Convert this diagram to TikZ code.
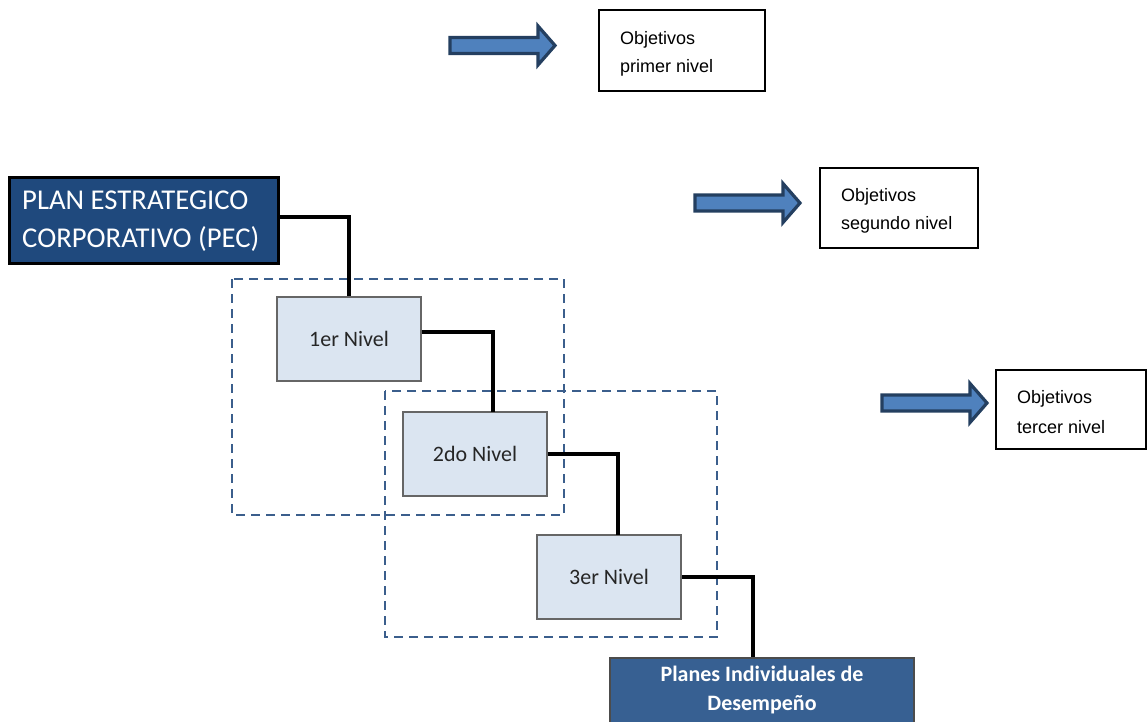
\documentclass[tikz,border=0pt]{standalone}
\usepackage{fontspec}
\setmainfont{Liberation Sans}
\newfontfamily\calfont{Carlito}
\begin{document}
\begin{tikzpicture}[x=1pt,y=-1pt,
  objtxt/.style={anchor=west, font=\fontsize{18}{20}\selectfont, inner sep=0pt},
  niv/.style={draw=black!60, line width=1.5pt, fill=nivfill, minimum width=144pt, minimum height=84pt, font=\calfont\fontsize{22}{24}\selectfont, text=black!85, inner sep=0pt},
  dashbox/.style={draw=dashcol, line width=1.8pt, dash pattern=on 9pt off 6pt},
  link/.style={draw=black, line width=3.2pt},
  bigarrow/.pic={\draw[fill=arrfill, draw=arrdraw, line width=3.2pt, line join=miter] (0,-8) -- (88,-8) -- (88,-19.5) -- (105,0) -- (88,19.5) -- (88,8) -- (0,8) -- cycle;}
]
\definecolor{nivfill}{HTML}{DBE5F1}
\definecolor{dashcol}{HTML}{3B5E8C}
\definecolor{arrfill}{HTML}{4F81BD}
\definecolor{arrdraw}{HTML}{243F60}
\definecolor{pecfill}{HTML}{1F497D}
\definecolor{planfill}{HTML}{376092}
\useasboundingbox (0,0) rectangle (1148,721);
\clip (0,0) rectangle (1148,721);
\fill[white] (0,0) rectangle (1148,721);

% dashed boxes
\draw[dashbox] (232,279) rectangle (564,515);
\draw[dashbox] (385,391) rectangle (717,637);

% top-right arrows and boxes
\pic at (450,45.5) {bigarrow};
\pic at (695,203) {bigarrow};
\pic at (882,403) {bigarrow};

\draw[draw=black, line width=1.3pt] (599,10) rectangle (765,91);
\node[objtxt] (o1a) at (620,40) {Objetivos};
\node[objtxt] (o1b) at (620,68) {primer nivel};
\draw[draw=black, line width=1.3pt] (820,168) rectangle (978,248);
\node[objtxt] (o2a) at (841,197) {Objetivos};
\node[objtxt] (o2b) at (841,225) {segundo nivel};
\draw[draw=black, line width=1.3pt] (996,370) rectangle (1146,449);
\node[objtxt] (o3a) at (1017,399) {Objetivos};
\node[objtxt] (o3b) at (1017,427) {tercer nivel};

% main nodes
\node[draw=black, line width=3pt, fill=pecfill, minimum width=269pt, minimum height=86pt, inner sep=0pt] (pec) at (143.5,220) {};
\node[anchor=west, text=white, font=\calfont\fontsize{28.7}{38}\selectfont, align=left, inner sep=0pt] (pect) at (22,221) {PLAN ESTRATEGICO\\CORPORATIVO (PEC)};

\node[niv] (n1) at (349,339) {1er Nivel};
\node[niv] (n2) at (475,454) {2do Nivel};
\node[niv] (n3) at (609,577) {3er Nivel};

\node[draw=black!70, line width=1.5pt, fill=planfill, minimum width=304pt, minimum height=90pt, inner sep=0pt, anchor=north] (pl) at (762,657) {};
\node[text=white, font=\calfont\bfseries\fontsize{22}{29}\selectfont, align=center, inner sep=0pt] (plt) at (762,690) {Planes Individuales de\\Desempeño};

\coordinate (in2) at (493,412);
\coordinate (in3) at (618,535);
\coordinate (plin) at (753,657);

% connectors
\draw[link] ([yshift=3pt]pec.east) -| (n1.north);
\draw[link] ([yshift=7pt]n1.east) -| (in2);
\draw[link] (n2.east) -| (in3);
\draw[link] (n3.east) -| (plin);
\end{tikzpicture}
\end{document}
